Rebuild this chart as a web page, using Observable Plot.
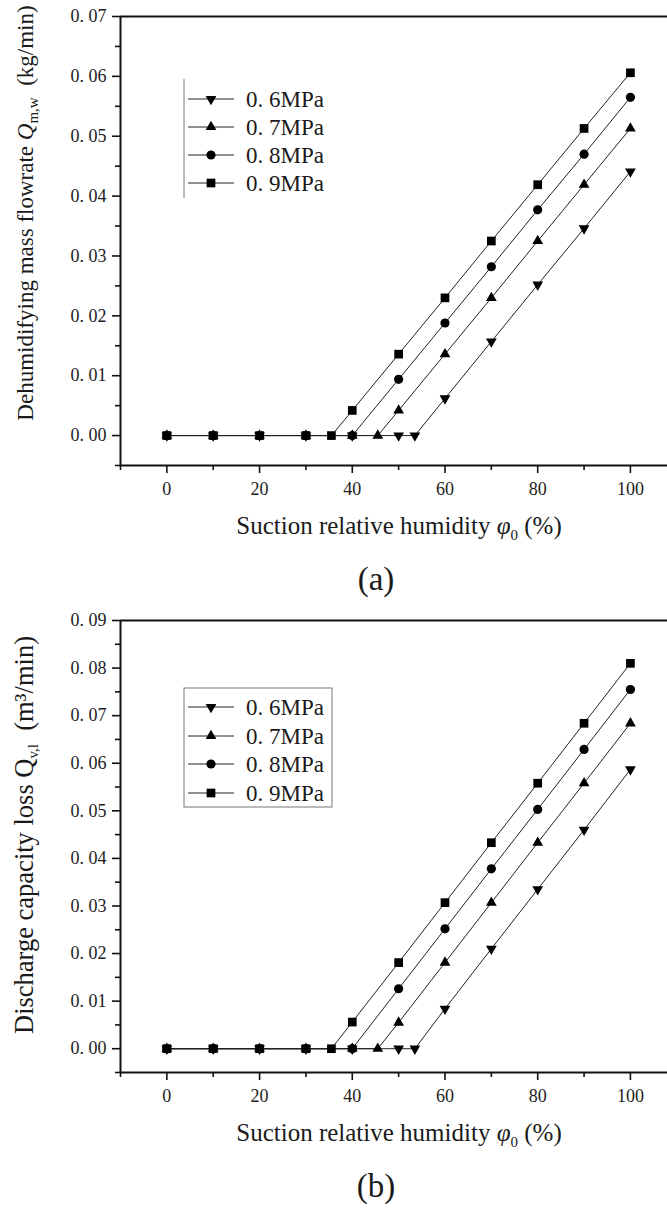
<!DOCTYPE html>
<html>
<head>
<meta charset="utf-8">
<script src="https://cdn.jsdelivr.net/npm/d3@7"></script>
<script src="https://cdn.jsdelivr.net/npm/@observablehq/plot@0.6"></script>
<style>
  html, body { margin: 0; padding: 0; background: #fff; }
  #wrap { width: 667px; }
  svg { display: block; }
</style>
</head>
<body>
<div id="wrap"><div id="a"></div><div id="b"></div></div>
<script>
// ---------- data ----------
const seriesNames = ["0.6MPa", "0.7MPa", "0.8MPa", "0.9MPa"];
const legendLabels = ["0. 6MPa", "0. 7MPa", "0. 8MPa", "0. 9MPa"];

// (a) Dehumidifying mass flowrate (kg/min)
const phiA06 = [0, 10, 20, 30, 40, 50, 53.5, 60, 70, 80, 90, 100];
const qA06   = [0, 0, 0, 0, 0, 0, 0, 0.0062, 0.0157, 0.0252, 0.0346, 0.0441];
const phiA07 = [0, 10, 20, 30, 40, 45.5, 50, 60, 70, 80, 90, 100];
const qA07   = [0, 0, 0, 0, 0, 0, 0.0042, 0.0136, 0.0230, 0.0325, 0.0419, 0.0513];
const phiA08 = [0, 10, 20, 30, 40, 50, 60, 70, 80, 90, 100];
const qA08   = [0, 0, 0, 0, 0, 0.0094, 0.0188, 0.0282, 0.0377, 0.0470, 0.0565];
const phiA09 = [0, 10, 20, 30, 35.5, 40, 50, 60, 70, 80, 90, 100];
const qA09   = [0, 0, 0, 0, 0, 0.0042, 0.0136, 0.0230, 0.0325, 0.0419, 0.0513, 0.0606];

// (b) Discharge capacity loss (m3/min)
const phiB06 = [0, 10, 20, 30, 40, 50, 53.5, 60, 70, 80, 90, 100];
const qB06   = [0, 0, 0, 0, 0, 0, 0, 0.0084, 0.0210, 0.0335, 0.0460, 0.0587];
const phiB07 = [0, 10, 20, 30, 40, 45.5, 50, 60, 70, 80, 90, 100];
const qB07   = [0, 0, 0, 0, 0, 0, 0.0055, 0.0181, 0.0307, 0.0433, 0.0558, 0.0684];
const phiB08 = [0, 10, 20, 30, 40, 50, 60, 70, 80, 90, 100];
const qB08   = [0, 0, 0, 0, 0, 0.0126, 0.0252, 0.0378, 0.0503, 0.0629, 0.0755];
const phiB09 = [0, 10, 20, 30, 35.5, 40, 50, 60, 70, 80, 90, 100];
const qB09   = [0, 0, 0, 0, 0, 0.0056, 0.0181, 0.0307, 0.0433, 0.0558, 0.0684, 0.0810];

const xMajor = [0, 20, 40, 60, 80, 100];
const xMinor = [-10, 10, 30, 50, 70, 90];
const yMajorA = [0, 0.01, 0.02, 0.03, 0.04, 0.05, 0.06, 0.07];
const yMajorB = [0, 0.01, 0.02, 0.03, 0.04, 0.05, 0.06, 0.07, 0.08, 0.09];

// ---------- helpers ----------
const symbols = [
  {symbol: "triangle", rotate: 180, r: 4.0},
  {symbol: "triangle", rotate: 0, r: 4.0},
  {symbol: "circle", rotate: 0, r: 4.6},
  {symbol: "square", rotate: 0, r: 4.9}
];
const d3symbols = [d3.symbolTriangle, d3.symbolTriangle, d3.symbolCircle, d3.symbolSquare];

function toRows(name, xs, ys) { return xs.map((x, i) => ({s: name, x, y: ys[i]})); }

const FONT = "'Liberation Serif', 'Times New Roman', serif";
const fmt = d => d.toFixed(2).replace(".", ". ");

function chart(cfg) {
  const {series, yMax, yMajor, height, marginTop, marginBottom} = cfg;
  const yMinor = d3.range(-0.005, yMax, 0.01).map(v => +v.toFixed(3));
  const marks = [
    Plot.ruleY([yMax], {stroke: "#111", strokeWidth: 2}),
    Plot.ruleY([-0.005], {stroke: "#111", strokeWidth: 2}),
    Plot.ruleX([-10], {stroke: "#111", strokeWidth: 2}),
    Plot.axisY({ticks: yMajor, tickSize: 8, tickPadding: 6, tickFormat: fmt, strokeWidth: 1.6, label: null, fill: "#222"}),
    Plot.axisY({ticks: yMinor, tickSize: 5, tickFormat: () => "", strokeWidth: 1.6, label: null}),
    Plot.axisX({ticks: xMajor, tickSize: 8, tickPadding: 9, tickFormat: d => String(d), strokeWidth: 1.6, label: null, fill: "#222"}),
    Plot.axisX({ticks: xMinor, tickSize: 5, tickFormat: () => "", strokeWidth: 1.6, label: null})
  ];
  series.forEach((rows) => {
    marks.push(Plot.line(rows, {x: "x", y: "y", stroke: "#222", strokeWidth: 1}));
  });
  series.forEach((rows, i) => {
    const sy = symbols[i];
    marks.push(Plot.dot(rows, {x: "x", y: "y", symbol: sy.symbol, rotate: sy.rotate, r: sy.r, fill: "#000", stroke: "none"}));
  });
  return Plot.plot({
    width: 667, height,
    marginLeft: 120, marginRight: 0, marginTop, marginBottom,
    x: {domain: [-10, 108], axis: null},
    y: {domain: [-0.005, yMax], axis: null},
    style: {fontFamily: FONT, fontSize: "18px", color: "#111", background: "#fff", overflow: "visible"},
    marks
  });
}

function decorate(svg, cfg) {
  const g = d3.select(svg).append("g").attr("font-family", FONT).attr("fill", "#1a1a1a");
  // x title
  const xt = g.append("text").attr("x", 399).attr("y", cfg.xTitleY).attr("text-anchor", "middle").attr("font-size", 25);
  xt.append("tspan").text("Suction relative humidity ");
  xt.append("tspan").attr("font-style", "italic").text("φ");
  xt.append("tspan").attr("font-size", 15).attr("dy", 6).text("0");
  xt.append("tspan").attr("dy", -6).text(" (%)");
  // panel letter
  g.append("text").attr("x", 376).attr("y", cfg.letterY).attr("text-anchor", "middle").attr("font-size", 33).text(cfg.letter);
  // y title
  const yt = g.append("text").attr("transform", `translate(33,${cfg.yTitleCY}) rotate(-90)`).attr("text-anchor", "middle").attr("font-size", cfg.yFont);
  yt.append("tspan").text(cfg.yTitle[0]);
  yt.append("tspan").attr("font-style", cfg.qItalic ? "italic" : "normal").text("Q");
  yt.append("tspan").attr("font-size", 15).attr("dy", 5).text(cfg.yTitle[1]);
  yt.append("tspan").attr("dy", -5).text(cfg.yTitle[2]);
  // legend
  const L = cfg.legend;
  const lg = d3.select(svg).append("g");
  if (L.box) {
    lg.append("rect").attr("x", L.x0).attr("y", L.y0).attr("width", L.x1 - L.x0).attr("height", L.y1 - L.y0)
      .attr("fill", "none").attr("stroke", "#777").attr("stroke-width", 1);
  } else {
    lg.append("line").attr("x1", L.x0).attr("x2", L.x0).attr("y1", L.y0).attr("y2", L.y1).attr("stroke", "#777").attr("stroke-width", 1);
  }
  legendLabels.forEach((lab, i) => {
    const y = L.rows[i];
    lg.append("line").attr("x1", L.x0 + 4).attr("x2", L.x0 + 50).attr("y1", y).attr("y2", y).attr("stroke", "#222").attr("stroke-width", 1);
    const s = symbols[i];
    lg.append("path").attr("d", d3.symbol(d3symbols[i], Math.PI * s.r * s.r)())
      .attr("transform", `translate(${L.x0 + 27},${y}) rotate(${s.rotate})`).attr("fill", "#000");
    lg.append("text").attr("x", L.x0 + 62).attr("y", y).attr("dy", "0.35em").attr("text-anchor", "start")
      .attr("font-family", FONT).attr("font-size", 23).attr("fill", "#1a1a1a").text(lab);
  });
}

const seriesA = [toRows(seriesNames[0], phiA06, qA06), toRows(seriesNames[1], phiA07, qA07),
                 toRows(seriesNames[2], phiA08, qA08), toRows(seriesNames[3], phiA09, qA09)];
const seriesB = [toRows(seriesNames[0], phiB06, qB06), toRows(seriesNames[1], phiB07, qB07),
                 toRows(seriesNames[2], phiB08, qB08), toRows(seriesNames[3], phiB09, qB09)];

const svgA = chart({series: seriesA, yMax: 0.07, yMajor: yMajorA, height: 600, marginTop: 16, marginBottom: 135});
decorate(svgA, {
  xTitleY: 534, letterY: 590, letter: "(a)", yTitleCY: 213, qItalic: true, yFont: 23,
  yTitle: ["Dehumidifying mass flowrate ", "m,w", "  (kg/min)"],
  legend: {box: false, x0: 184, x1: 332, y0: 79, y1: 198, rows: [99, 127, 155, 183]}
});
document.getElementById("a").appendChild(svgA);

const svgB = chart({series: seriesB, yMax: 0.09, yMajor: yMajorB, height: 611, marginTop: 20, marginBottom: 139});
decorate(svgB, {
  xTitleY: 541, letterY: 597, letter: "(b)", yTitleCY: 235, qItalic: false, yFont: 26.5,
  yTitle: ["Discharge capacity loss ", "v,l", "  (m³/min)"],
  legend: {box: true, x0: 184, x1: 332, y0: 88, y1: 207, rows: [107, 136, 164, 193]}
});
document.getElementById("b").appendChild(svgB);
</script>
</body>
</html>
